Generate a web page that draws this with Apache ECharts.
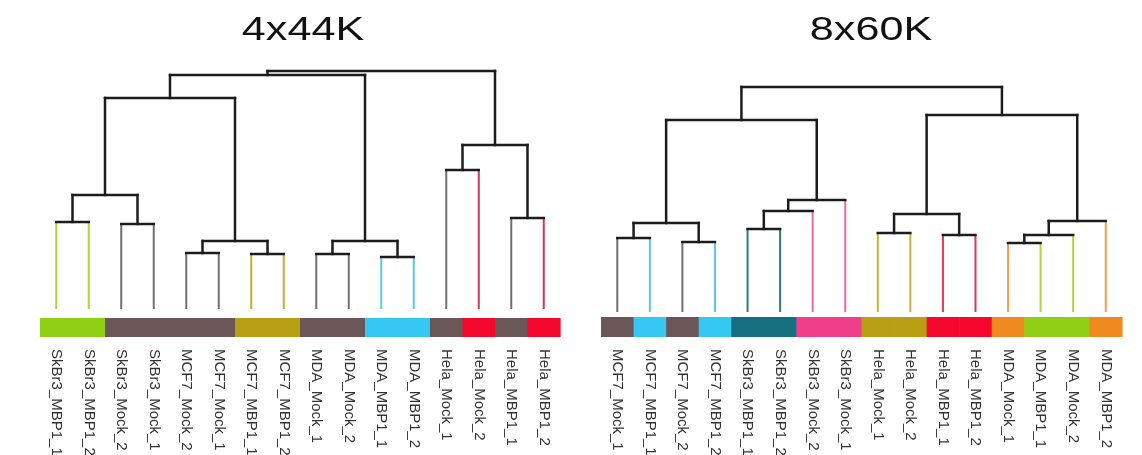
<!DOCTYPE html>
<html>
<head>
<meta charset="utf-8">
<script src="https://cdn.jsdelivr.net/npm/echarts@6/dist/echarts.min.js"></script>
<style>
html,body{margin:0;padding:0;background:#fff;}
#chart{width:1142px;height:455px;}
</style>
</head>
<body>
<div id="chart"></div>
<script>
// ---------- DATA ----------
const titles = ['4x44K', '8x60K'];

const labelsA = ['SkBr3_MBP1_1','SkBr3_MBP1_2','SkBr3_Mock_2','SkBr3_Mock_1','MCF7_Mock_2','MCF7_Mock_1','MCF7_MBP1_1','MCF7_MBP1_2',
                 'MDA_Mock_1','MDA_Mock_2','MDA_MBP1_1','MDA_MBP1_2','Hela_Mock_1','Hela_Mock_2','Hela_MBP1_1','Hela_MBP1_2'];
const leafColorsA = ['#b0d43a','#b0d43a','#707070','#707070','#707070','#707070','#c4b02c','#c4b02c',
                     '#707070','#707070','#5cc8e2','#5cc8e2','#707070','#d0375f','#707070','#d0375f'];
const barColorsA = ['#8fd016','#8fd016','#6b5758','#6b5758','#6b5758','#6b5758','#b89f14','#b89f14',
                    '#6b5758','#6b5758','#35c8f2','#35c8f2','#6b5758','#f5082e','#6b5758','#f5082e'];
// merge table: negative = leaf (1-based), positive = earlier merge (1-based), then height
const mergesA = [
  [-1,-2,87],[-3,-4,85],[1,2,114],[-5,-6,56],[-7,-8,55],[4,5,68],[3,6,211],
  [-9,-10,55],[-11,-12,52],[8,9,68],[7,10,234],
  [-13,-14,139],[-15,-16,91],[12,13,164],[11,14,238]
];

const labelsB = ['MCF7_Mock_1','MCF7_MBP1_1','MCF7_Mock_2','MCF7_MBP1_2','SkBr3_MBP1_1','SkBr3_MBP1_2','SkBr3_Mock_2','SkBr3_Mock_1',
                 'Hela_Mock_1','Hela_Mock_2','Hela_MBP1_1','Hela_MBP1_2','MDA_Mock_1','MDA_MBP1_1','MDA_Mock_2','MDA_MBP1_2'];
const leafColorsB = ['#707070','#5cc8e2','#707070','#5cc8e2','#2d7c84','#2d7c84','#f06aa2','#f06aa2',
                     '#c8b434','#c8b434','#e0345c','#e0345c','#f0a050','#b0d43a','#b0d43a','#f0a050'];
const barColorsB = ['#6b5758','#35c8f2','#6b5758','#35c8f2','#17707f','#17707f','#f03e8a','#f03e8a',
                    '#b89f14','#b89f14','#f5082e','#f5082e','#f08a20','#8fd016','#8fd016','#f08a20'];
const mergesB = [
  [-1,-2,74],[-3,-4,70],[1,2,89],[-5,-6,83],[4,-7,101],[5,-8,112],[3,6,192],
  [-9,-10,79],[-11,-12,77],[8,9,98],[-13,-14,69],[11,-15,77],[12,-16,91],[10,13,197],[7,14,225]
];

// ---------- BUILD ----------
function clusterXs(merges){
  const xs = [];
  merges.forEach((m,k)=>{
    const xa = m[0] < 0 ? -m[0]-1 : xs[m[0]-1];
    const xb = m[1] < 0 ? -m[1]-1 : xs[m[1]-1];
    xs[k] = (xa + xb) / 2;
  });
  return xs;
}

function dendroSeries(idx, merges, leafColors){
  const xs = clusterXs(merges);
  return {
    type:'custom', xAxisIndex: idx*2, yAxisIndex: idx, clip:false, silent:true,
    data: merges.map((m,k)=>[xs[k], m[2], k]),
    renderItem: function(params, api){
      const k = api.value(2);
      const m = merges[k];
      const H = m[2];
      const kids = [m[0], m[1]].map(c => c < 0
        ? {x: -c-1, h: 0, color: leafColors[-c-1], leaf:true}
        : {x: xs[c-1], h: merges[c-1][2], color: '#1c1c1c', leaf:false});
      const children = [];
      kids.forEach(ch=>{
        const p1 = api.coord([ch.x, ch.h]);
        const p2 = api.coord([ch.x, H]);
        children.push({type:'line', shape:{x1:p1[0],y1:p1[1],x2:p2[0],y2:p2[1]},
          style:{stroke: ch.color, lineWidth: ch.leaf ? 2 : 2.5, lineCap: ch.leaf ? 'butt' : 'square'}});
      });
      const a = api.coord([kids[0].x, H]);
      const b = api.coord([kids[1].x, H]);
      children.push({type:'line', shape:{x1:a[0],y1:a[1],x2:b[0],y2:b[1]},
        style:{stroke:'#1c1c1c', lineWidth:2.5, lineCap:'square'}});
      return {type:'group', children};
    }
  };
}

function barSeries(idx, barColors, yTop, yBot){
  return {
    type:'custom', xAxisIndex: idx*2, yAxisIndex: idx, clip:false, silent:true,
    data: barColors.map((c,i)=>[i, yTop]),
    renderItem: function(params, api){
      const i = api.value(0);
      const p1 = api.coord([i-0.5, yTop]);
      const p2 = api.coord([i+0.5, yBot]);
      return {type:'rect', shape:{x:p1[0], y:p1[1], width:p2[0]-p1[0]+0.6, height:p2[1]-p1[1]},
        style:{fill: barColors[i]}};
    }
  };
}

const grids = [
  {left:40, width:520, top:59, height:280, containLabel:false, outerBoundsMode:'none'},
  {left:601, width:521, top:62, height:277, containLabel:false, outerBoundsMode:'none'}
];
const yMins = [-30, -27];

const xAxes = [];
const yAxes = [];
[labelsA, labelsB].forEach((labels, g)=>{
  xAxes.push({type:'value', gridIndex:g, min:-0.5, max:15.5, show:false});
  xAxes.push({type:'category', gridIndex:g, data:labels, position:'bottom', boundaryGap:true,
    axisLine:{show:false}, axisTick:{show:false}, splitLine:{show:false},
    axisLabel:{rotate:-90, interval:0, margin:10, fontSize:15, color:'#333333', fontFamily:'Liberation Sans, Arial, sans-serif'}});
  yAxes.push({type:'value', gridIndex:g, min:yMins[g], max:250, show:false});
});

const titleX = [303, 871];
const option = {
  backgroundColor:'#ffffff',
  animation:false,
  grid: grids,
  xAxis: xAxes,
  yAxis: yAxes,
  graphic: titles.map((t,i)=>({
    type:'text', x:titleX[i], y:31, scaleX:1.27, scaleY:1,
    style:{text:t, x:0, y:0, align:'center', verticalAlign:'middle', fill:'#111',
      fontSize:34, fontFamily:'Liberation Sans, Arial, sans-serif'}
  })),
  series: [
    dendroSeries(0, mergesA, leafColorsA),
    barSeries(0, barColorsA, -9, -28),
    dendroSeries(1, mergesB, leafColorsB),
    barSeries(1, barColorsB, -5, -25)
  ]
};

const chart = echarts.init(document.getElementById('chart'), null, {renderer:'canvas'});
chart.setOption(option);
</script>
</body>
</html>
